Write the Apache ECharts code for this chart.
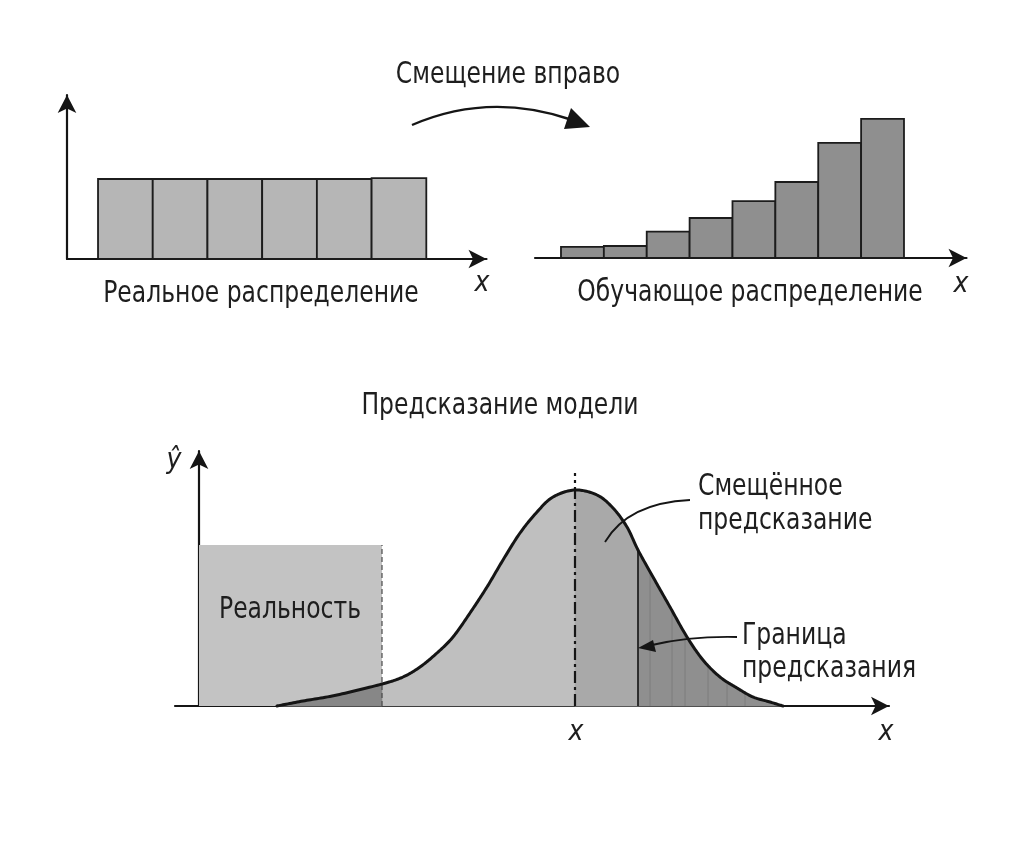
<!DOCTYPE html>
<html><head><meta charset="utf-8">
<script src="https://cdn.jsdelivr.net/npm/echarts@6/dist/echarts.min.js"></script>
<style>html,body{margin:0;padding:0;background:#fff}#c{width:1024px;height:847px}</style>
</head><body><div id="c"></div>
<script>
// ---- data ----
const realBins = [0, 1, 2, 3, 4, 5];
const realHeights = [1.0, 1.0, 1.0, 1.0, 1.0, 1.01];
const trainBins = [0, 1, 2, 3, 4, 5, 6, 7];
const trainHeights = [0.14, 0.15, 0.33, 0.50, 0.71, 0.95, 1.44, 1.74];

const curveX = [7.8, 10.4, 13.8, 18.3, 20.4, 22.1, 23.8, 25.4, 27.1, 28.8, 30.4, 32.1, 33.8, 35.4, 37.6, 39.8, 41.4, 42.8, 43.9, 45.4, 47.1, 48.8, 50.4, 52.1, 53.8, 55.4, 57.1, 58.4];
const curveY = [0.0, 0.5, 1.1, 2.2, 2.9, 3.9, 5.3, 6.9, 9.3, 11.9, 14.6, 17.3, 19.4, 20.9, 21.6, 21.1, 19.8, 17.9, 15.6, 12.9, 9.9, 6.9, 4.6, 2.9, 1.8, 0.9, 0.4, 0.0];
const realityX = [0, 18.3];
const realityLevel = 16.1;
const meanX = 37.6;
const meanLineTop = 23.3;
const boundX = 43.9;
const stripeX = [45.1, 47.3, 48.6, 50.9, 52.8, 54.6];
const stripeY = [13.4, 9.5, 7.2, 4.1, 2.4, 1.3];

const texts = {
  shift: 'Смещение вправо',
  real: 'Реальное распределение',
  train: 'Обучающое распределение',
  model: 'Предсказание модели',
  reality: 'Реальность',
  biased1: 'Смещённое',
  biased2: 'предсказание',
  bound1: 'Граница',
  bound2: 'предсказания',
  x: 'x',
  yhat: 'ŷ'
};

// ---- build ----
const FONT = "'DejaVu Sans Condensed','Liberation Sans Narrow','Noto Sans',sans-serif";
const INK = '#151515';
const curve = curveX.map((x, i) => [x, curveY[i]]);

function barItem(params, api) {
  const x0 = api.value(0), h = api.value(1);
  const a = api.coord([x0, h]);
  const b = api.coord([x0 + 1, 0]);
  return {type: 'rect', shape: {x: a[0], y: a[1], width: b[0] - a[0], height: b[1] - a[1]},
    style: {fill: api.visual('color'), stroke: '#1c1c1c', lineWidth: 1.8}};
}
function stripeItem(params, api) {
  const a = api.coord([api.value(0), 0]);
  const b = api.coord([api.value(0), api.value(1)]);
  return {type: 'line', shape: {x1: a[0], y1: a[1], x2: b[0], y2: b[1]},
    style: {stroke: '#7c7c7c', lineWidth: 1}};
}

// smooth curve through the data points (Catmull-Rom in pixel space, points from api.coord)
function curvePixels(api) {
  const P = curve.map(p => api.coord(p));
  const base = api.coord([0, 0])[1];
  const out = [];
  for (let i = 0; i < P.length - 1; i++) {
    const p0 = P[Math.max(i - 1, 0)], p1 = P[i], p2 = P[i + 1], p3 = P[Math.min(i + 2, P.length - 1)];
    const c1 = [p1[0] + (p2[0] - p0[0]) / 6, p1[1] + (p2[1] - p0[1]) / 6];
    const c2 = [p2[0] - (p3[0] - p1[0]) / 6, p2[1] - (p3[1] - p1[1]) / 6];
    for (let k = 0; k < 16; k++) {
      const t = k / 16, u = 1 - t;
      const x = u*u*u*p1[0] + 3*u*u*t*c1[0] + 3*u*t*t*c2[0] + t*t*t*p2[0];
      const y = u*u*u*p1[1] + 3*u*u*t*c1[1] + 3*u*t*t*c2[1] + t*t*t*p2[1];
      out.push([x, Math.min(y, base)]);
    }
  }
  out.push(P[P.length - 1]);
  return {S: out, base: base};
}
function yAt(S, x) {
  for (let i = 0; i < S.length - 1; i++) {
    if (S[i][0] <= x && S[i + 1][0] >= x) {
      const f = (x - S[i][0]) / ((S[i + 1][0] - S[i][0]) || 1);
      return S[i][1] + f * (S[i + 1][1] - S[i][1]);
    }
  }
  return S[S.length - 1][1];
}
function region(S, base, xa, xb, fill) {
  const pts = [[xa, base], [xa, yAt(S, xa)]];
  S.forEach(p => { if (p[0] > xa && p[0] < xb) pts.push(p); });
  pts.push([xb, yAt(S, xb)], [xb, base]);
  return {type: 'polygon', shape: {points: pts}, style: {fill: fill, stroke: fill, lineWidth: 0.5}};
}
function fillItem(params, api) {
  if (params.dataIndex !== 0) return null;
  const c = curvePixels(api), S = c.S, base = c.base;
  const x0 = S[0][0], x1 = S[S.length - 1][0];
  const xr = api.coord([realityX[1], 0])[0];
  const xm = api.coord([meanX, 0])[0];
  const xbd = api.coord([boundX, 0])[0];
  return {type: 'group', children: [
    region(S, base, x0, x1, '#bfbfbf'),
    region(S, base, x0, xr, '#878787'),
    region(S, base, xm, xbd, '#a9a9a9'),
    region(S, base, xbd, x1, '#8f8f8f')
  ]};
}
function strokeItem(params, api) {
  if (params.dataIndex !== 0) return null;
  const c = curvePixels(api);
  return {type: 'polyline', shape: {points: c.S},
    style: {stroke: INK, lineWidth: 3, fill: null, lineJoin: 'round', lineCap: 'round'}};
}

function axisX(grid, min, max) {
  return {type: 'value', gridIndex: grid, min: min, max: max,
    axisLine: {show: true, onZero: false, symbol: ['none', 'arrow'], symbolSize: [14, 18],
      lineStyle: {color: INK, width: 2.2}},
    axisTick: {show: false}, axisLabel: {show: false}, splitLine: {show: false}};
}
function axisY(grid, max, show, onZero) {
  return {type: 'value', gridIndex: grid, min: 0, max: max,
    axisLine: {show: show, onZero: onZero, symbol: ['none', 'arrow'], symbolSize: [14, 18],
      lineStyle: {color: INK, width: 2.2}},
    axisTick: {show: false}, axisLabel: {show: false}, splitLine: {show: false}};
}

const lineSeries = (data, extra) => Object.assign({
  type: 'line', xAxisIndex: 2, yAxisIndex: 2, data: data, symbol: 'none',
  silent: true, animation: false
}, extra);

const txt = (t, x, y, align, size, italic, sx) => ({
  type: 'text', x: x, y: y, silent: true, scaleX: sx || 0.87, z: 50,
  style: {text: t, textAlign: align || 'center', textVerticalAlign: 'middle',
    font: (italic ? 'italic ' : '') + (size || 30) + 'px ' + FONT, fill: '#1e1e1e'}
});

const chart = echarts.init(document.getElementById('c'), null, {renderer: 'canvas'});
chart.setOption({
  animation: false,
  backgroundColor: '#ffffff',
  grid: [
    {left: 67, top: 95, width: 419.5, height: 164},
    {left: 535, top: 94, width: 431.5, height: 164},
    {left: 175, top: 451, width: 714, height: 255}
  ],
  xAxis: [
    axisX(0, -0.567, 7.10),
    axisX(1, -0.606, 9.458),
    axisX(2, -2.4, 69.0)
  ],
  yAxis: [
    axisY(0, 2.05, true, false),
    axisY(1, 2.05, false, false),
    axisY(2, 25.5, true, true)
  ],
  series: [
    {type: 'custom', xAxisIndex: 0, yAxisIndex: 0, renderItem: barItem, itemStyle: {color: '#b6b6b6'},
      data: realBins.map((b, i) => [b, realHeights[i]]), silent: true},
    {type: 'custom', xAxisIndex: 1, yAxisIndex: 1, renderItem: barItem, itemStyle: {color: '#8f8f8f'},
      data: trainBins.map((b, i) => [b, trainHeights[i]]), silent: true},

    lineSeries([[realityX[0], realityLevel], [realityX[1], realityLevel]],
      {z: 1, lineStyle: {width: 0}, areaStyle: {color: '#c3c3c3', opacity: 1}}),
    {type: 'custom', xAxisIndex: 2, yAxisIndex: 2, renderItem: fillItem, z: 2, silent: true, clip: false, data: curve},
    {type: 'custom', xAxisIndex: 2, yAxisIndex: 2, renderItem: stripeItem, z: 4, silent: true,
      data: stripeX.map((x, i) => [x, stripeY[i]])},
    lineSeries([[realityX[1], 0], [realityX[1], realityLevel]],
      {z: 5, lineStyle: {color: '#4a4a4a', width: 1.2, type: [5, 3]}}),
    lineSeries([[meanX, 0], [meanX, meanLineTop]],
      {z: 6, lineStyle: {color: INK, width: 2.2, type: [12, 4, 3, 4]}}),
    lineSeries([[boundX, 0], [boundX, curveY[curveX.indexOf(boundX)]]],
      {z: 6, lineStyle: {color: INK, width: 1.6}}),
    {type: 'custom', xAxisIndex: 2, yAxisIndex: 2, renderItem: strokeItem, z: 7, silent: true, clip: false, data: curve}
  ],
  graphic: [
    txt(texts.shift, 508, 75),
    txt(texts.real, 261, 294),
    txt(texts.train, 750, 293),
    txt(texts.x, 482, 284, 'center', 28, true, 1),
    txt(texts.x, 961, 285, 'center', 28, true, 1),
    txt(texts.model, 500, 406),
    txt(texts.reality, 290, 610),
    txt(texts.biased1, 698, 487, 'left'),
    txt(texts.biased2, 698, 521, 'left'),
    txt(texts.bound1, 742, 636, 'left'),
    txt(texts.bound2, 742, 669, 'left'),
    txt(texts.x, 576, 733, 'center', 28, true, 1),
    txt(texts.x, 886, 733, 'center', 28, true, 1),
    txt(texts.yhat, 174, 461, 'center', 28, true, 1),
    // curved "shift" arrow
    {type: 'bezierCurve', silent: true, shape: {x1: 412, y1: 125, cpx1: 488, cpy1: 92, x2: 569, y2: 119},
      style: {stroke: INK, lineWidth: 2.4, fill: null}},
    {type: 'polygon', silent: true, shape: {points: [[590, 127], [564, 129], [571, 108]]},
      style: {fill: INK}},
    // leader: biased prediction
    {type: 'bezierCurve', silent: true, z: 100, shape: {x1: 605, y1: 542, cpx1: 628, cpy1: 503, x2: 690, y2: 500},
      style: {stroke: INK, lineWidth: 1.8, fill: null}},
    // leader: boundary with arrow
    {type: 'bezierCurve', silent: true, z: 100, shape: {x1: 737, y1: 637, cpx1: 690, cpy1: 636, x2: 652, y2: 645},
      style: {stroke: INK, lineWidth: 1.8, fill: null}},
    {type: 'polygon', silent: true, z: 100, shape: {points: [[638, 648], [656, 652], [653, 640]]},
      style: {fill: INK}}
  ]
});
</script>
</body></html>
